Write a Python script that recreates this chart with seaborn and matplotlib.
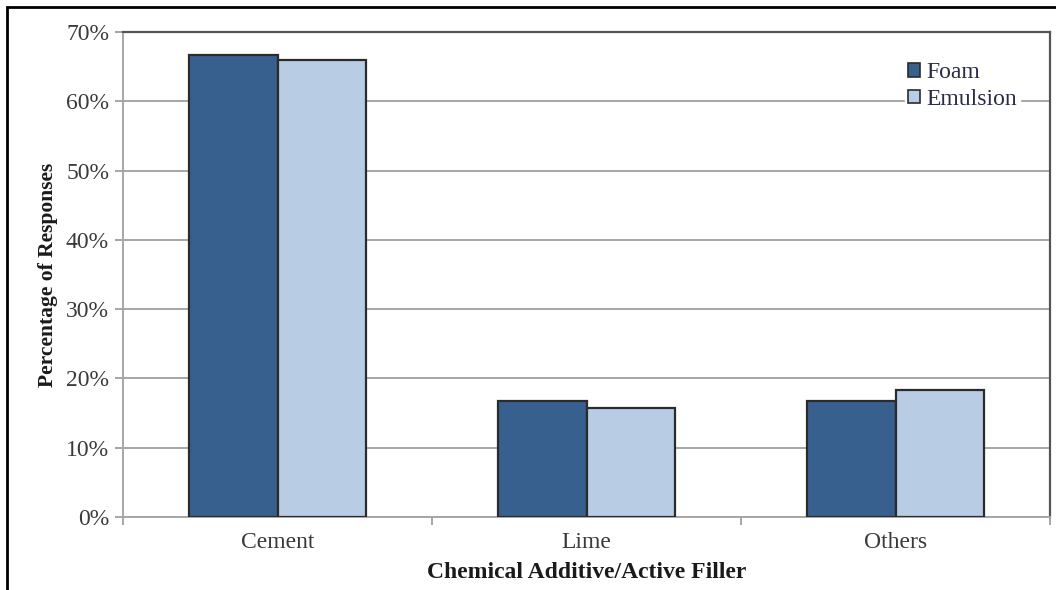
import matplotlib
matplotlib.use("Agg")
import matplotlib.pyplot as plt
from matplotlib.patches import Rectangle
from matplotlib.ticker import FixedLocator, PercentFormatter
import seaborn as sns
import pandas as pd

categories = ["Cement", "Lime", "Others"]
series_names = ["Foam", "Emulsion"]
foam_values = [66.7, 16.7, 16.7]
emulsion_values = [65.9, 15.8, 18.4]
y_ticks = [0, 10, 20, 30, 40, 50, 60, 70]

df = pd.DataFrame({
    "category": categories * 2,
    "series": [series_names[0]] * 3 + [series_names[1]] * 3,
    "value": foam_values + emulsion_values,
})

sns.set_theme(style="white")
plt.rcParams["font.family"] = ["Liberation Serif", "DejaVu Serif"]

fig = plt.figure(figsize=(10.56, 5.90), dpi=100)
ax = fig.add_axes([123 / 1056, 1 - 517 / 590, (1050 - 123) / 1056, (517 - 32) / 590])

palette = {"Foam": "#37608f", "Emulsion": "#b8cce4"}
sns.barplot(data=df, x="category", y="value", hue="series", order=categories,
            hue_order=series_names, palette=palette, width=0.57, gap=0,
            edgecolor="#2b2b2b", linewidth=1.6, saturation=1, ax=ax, zorder=3)

ax.set_xlim(-0.5, 2.5)
ax.set_ylim(0, 70)
ax.yaxis.set_major_locator(FixedLocator(y_ticks))
ax.yaxis.set_major_formatter(PercentFormatter(decimals=0))
ax.grid(axis="y", color="#a6a6a6", linewidth=1.4, zorder=0)
ax.set_axisbelow(True)

# category separators on the x axis
ax.xaxis.set_minor_locator(FixedLocator([-0.5, 0.5, 1.5, 2.5]))
ax.tick_params(axis="x", which="major", length=0, pad=11, labelsize=17, labelcolor="#3a3a3a")
ax.tick_params(axis="x", which="minor", length=6, width=1.4, color="#a6a6a6", direction="out")
ax.tick_params(axis="y", which="major", length=6, width=1.4, color="#a6a6a6",
               direction="out", pad=4, labelsize=17, labelcolor="#3a3a3a")
ax.yaxis.set_ticks_position("left")
ax.xaxis.set_ticks_position("bottom")

for side in ["left", "bottom"]:
    ax.spines[side].set_color("#a6a6a6")
    ax.spines[side].set_linewidth(1.4)
for side in ["top", "right"]:
    ax.spines[side].set_color("#555555")
    ax.spines[side].set_linewidth(1.6)

ax.set_xlabel("Chemical Additive/Active Filler", fontsize=17, fontweight="bold",
              color="#1a1a1a", labelpad=6)
ax.set_ylabel("Percentage of Responses", fontsize=15.5, fontweight="bold",
              color="#1a1a1a", labelpad=6)

leg = ax.legend(loc="upper right", bbox_to_anchor=(0.968, 0.945), frameon=True,
                fontsize=17, handlelength=0.5, handleheight=0.5, handletextpad=0.25,
                labelspacing=0.25, borderpad=0.15, borderaxespad=0)
leg.get_frame().set_facecolor("white")
leg.get_frame().set_edgecolor("white")
leg.get_frame().set_alpha(1)
leg.set_zorder(5)
for t in leg.get_texts():
    t.set_color("#2a2a4a")
for h in leg.legend_handles:
    h.set_edgecolor("#2b2b2b")
    h.set_linewidth(1.2)

# outer frame around the figure
fig.add_artist(Rectangle((7 / 1056, -0.1), 1.2, 1 - 7 / 590 + 0.1,
                         transform=fig.transFigure, fill=False,
                         edgecolor="black", linewidth=2))

fig.savefig("out.png", dpi=100)
